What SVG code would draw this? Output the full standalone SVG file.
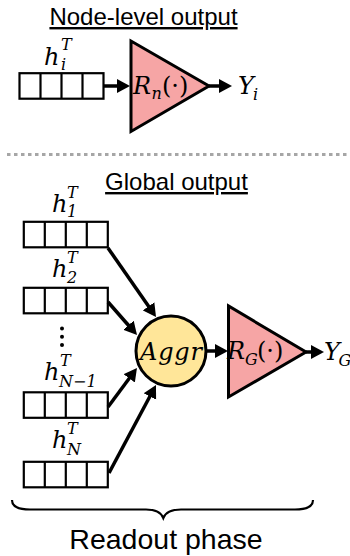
<svg xmlns="http://www.w3.org/2000/svg" width="350" height="556" viewBox="0 0 350 556">
<style>
.hd{font-family:"Liberation Sans",Arial,sans-serif;font-size:24px;fill:#000;text-decoration:underline}
.ro{font-family:"Liberation Sans",Arial,sans-serif;font-size:28.5px;fill:#000}
.m{font-family:"DejaVu Serif",serif;font-style:italic;font-size:24px;fill:#000}
.s{font-size:16px}
.up{font-style:normal}
.cell{fill:#fff;stroke:#000;stroke-width:2.2}
.div{stroke:#000;stroke-width:2.2}
.tri{fill:#F6A5A5;stroke:#000;stroke-width:3}
.ag{fill:#FFE699;stroke:#000;stroke-width:3}
.ar{stroke:#000;stroke-width:3.5;fill:none;marker-end:url(#ah)}
</style>
<defs>
<marker id="ah" markerUnits="userSpaceOnUse" markerWidth="14" markerHeight="15" refX="3" refY="7.5" orient="auto">
<path d="M0,0.5 L13,7.5 L0,14.5 z" fill="#000"/>
</marker>
<g id="vec">
<rect class="cell" x="0" y="0" width="84" height="25.5"/>
<line class="div" x1="21" y1="0" x2="21" y2="25.5"/>
<line class="div" x1="42" y1="0" x2="42" y2="25.5"/>
<line class="div" x1="63" y1="0" x2="63" y2="25.5"/>
</g>
</defs>
<rect width="350" height="556" fill="#fff"/>

<text class="hd" x="143.5" y="25" text-anchor="middle">Node-level output</text>

<g id="hi">
<use href="#vec" x="19.5" y="73.2"/>
<text class="m" x="44" y="65">h</text>
<text class="m s" x="61" y="50">T</text>
<text class="m s" x="61" y="70">i</text>
</g>

<g id="Rn">
<polygon class="tri" points="131,41 131,131.5 209,86"/>
<text class="m" x="133" y="94">R</text>
<text class="m s" x="151.5" y="99">n</text>
<text class="m up" x="162" y="94">(·)</text>
</g>

<g id="Yi">
<text class="m" x="238" y="94">Y</text>
<text class="m s" x="253" y="100">i</text>
</g>

<line x1="7" y1="154.5" x2="350" y2="154.5" stroke="#A6A6A6" stroke-width="3" stroke-dasharray="3.5,3.5"/>

<text class="hd" x="176.5" y="190" text-anchor="middle">Global output</text>

<g id="h1">
<use href="#vec" x="23.8" y="221.8"/>
<text class="m" x="52" y="212">h</text>
<text class="m s" x="67" y="198">T</text>
<text class="m s" x="67" y="217">1</text>
</g>

<g id="h2">
<use href="#vec" x="23.8" y="287.8"/>
<text class="m" x="52" y="277">h</text>
<text class="m s" x="67" y="263">T</text>
<text class="m s" x="67" y="283">2</text>
</g>

<g id="dots">
<circle cx="62" cy="328.5" r="2"/>
<circle cx="62" cy="336.8" r="2"/>
<circle cx="62" cy="345" r="2"/>
</g>

<g id="hN1">
<use href="#vec" x="23.8" y="392.3"/>
<text class="m" x="44" y="380">h</text>
<text class="m s" x="60" y="366">T</text>
<text class="m s" x="59" y="387">N−1</text>
</g>

<g id="hN">
<use href="#vec" x="23.8" y="461.8"/>
<text class="m" x="52" y="448">h</text>
<text class="m s" x="67" y="434">T</text>
<text class="m s" x="67" y="455">N</text>
</g>

<g id="aggr">
<circle class="ag" cx="171" cy="351" r="35"/>
<text class="m" x="140" y="360" textLength="62" lengthAdjust="spacing">Aggr</text>
</g>

<g id="RG">
<polygon class="tri" points="228.5,306 228.5,397 306,352"/>
<text class="m" x="227" y="359">R</text>
<text class="m s" x="245" y="365">G</text>
<text class="m up" x="257" y="359">(·)</text>
</g>

<g id="YG">
<text class="m" x="324" y="360">Y</text>
<text class="m s" x="338.5" y="366" font-size="14">G</text>
</g>

<g id="connectors">
<line class="ar" x1="104" y1="86" x2="120" y2="86"/>
<line class="ar" x1="209" y1="86" x2="222" y2="86"/>
<line class="ar" x1="108" y1="248" x2="150.3" y2="308.8"/>
<line class="ar" x1="108" y1="302" x2="130.4" y2="327.5"/>
<line class="ar" x1="108" y1="407" x2="131" y2="376"/>
<line class="ar" x1="109" y1="473" x2="151.3" y2="393.8"/>
<line class="ar" x1="206" y1="351" x2="218" y2="351"/>
<line class="ar" x1="306" y1="352" x2="314" y2="352"/>
</g>

<path id="brace" d="M12,500 Q12,509.5 30,509.5 L146,509.5 Q160,509.5 163.3,518 Q166.6,509.5 181,509.5 L295,509.5 Q313,509.5 313,500" fill="none" stroke="#000" stroke-width="2.2"/>

<text class="ro" x="166" y="549" text-anchor="middle">Readout phase</text>
</svg>
